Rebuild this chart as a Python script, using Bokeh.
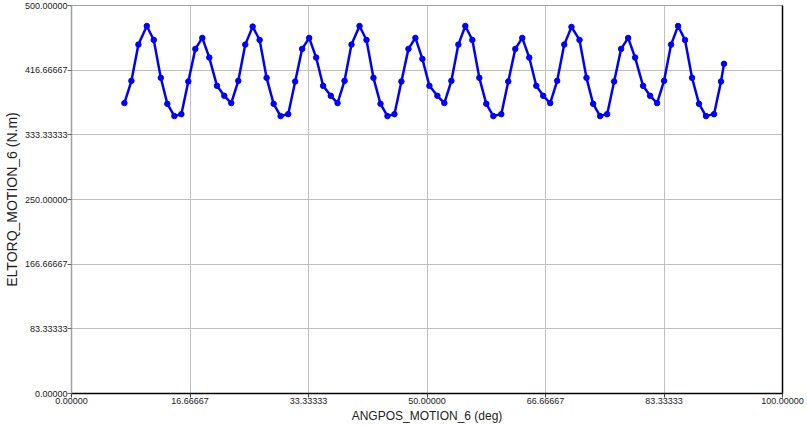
from bokeh.plotting import figure
from bokeh.models import FixedTicker, LinearAxis, Range1d
from bokeh.embed import file_html
from bokeh.resources import INLINE

# ---- data ----
angpos_deg = [
    7.44, 8.43, 9.41, 10.59, 11.57, 12.56, 13.48, 14.47, 15.45, 16.43,
    17.42, 18.40, 19.38, 20.46, 21.49, 22.47, 23.46, 24.44, 25.48, 26.46,
    27.44, 28.43, 29.41, 30.48, 31.46, 32.44, 33.43, 34.41, 35.39, 36.47,
    37.42, 38.40, 39.38, 40.51, 41.49, 42.47, 43.46, 44.44, 45.42, 46.40,
    47.39, 48.37, 49.35, 50.34, 51.46, 52.44, 53.43, 54.41, 55.39, 56.38,
    57.36, 58.34, 59.33, 60.45, 61.43, 62.42, 63.40, 64.38, 65.37, 66.35,
    67.33, 68.31, 69.30, 70.32, 71.45, 72.43, 73.37, 74.35, 75.34, 76.32,
    77.30, 78.29, 79.27, 80.39, 81.38, 82.36, 83.34, 84.33, 85.31, 86.29,
    87.28, 88.26, 89.24, 90.37, 91.35, 91.77,
]
eltorq_nm = [
    374.2, 402.9, 449.6, 473.6, 455.6, 406.8, 373.3, 357.5, 360.0, 402.1,
    444.1, 458.2, 432.9, 396.5, 383.6, 374.2, 402.9, 449.6, 472.8, 455.6,
    406.8, 373.3, 357.5, 360.0, 402.1, 444.1, 458.2, 432.9, 396.5, 383.6,
    374.2, 402.9, 449.6, 473.6, 455.6, 406.8, 373.3, 357.5, 360.0, 402.1,
    444.1, 458.2, 431.2, 396.5, 383.6, 374.2, 402.9, 449.6, 473.6, 455.6,
    406.8, 373.3, 357.5, 360.0, 402.1, 444.1, 458.2, 432.9, 396.5, 383.6,
    374.2, 402.9, 449.6, 472.4, 455.6, 406.8, 373.3, 357.5, 360.0, 402.1,
    444.1, 458.2, 432.9, 396.5, 383.6, 374.2, 402.9, 449.6, 473.6, 455.6,
    406.8, 373.3, 357.5, 360.0, 402.1, 424.8,
]
x_ticks = [0.0, 16.66667, 33.33333, 50.0, 66.66667, 83.33333, 100.0]
x_tick_labels = ["0.00000", "16.66667", "33.33333", "50.00000", "66.66667", "83.33333", "100.00000"]
y_ticks = [0.0, 83.33333, 166.66667, 250.0, 333.33333, 416.66667, 500.0]
y_tick_labels = ["0.00000", "83.33333", "166.66667", "250.00000", "333.33333", "416.66667", "500.00000"]
x_label = "ANGPOS_MOTION_6 (deg)"
y_label = "ELTORQ_MOTION_6 (N.m)"

FONT = "Liberation Sans"

p = figure(
    width=807, height=425,
    output_backend="svg", toolbar_location=None,
    x_range=Range1d(0, 100), y_range=Range1d(0, 500),
    min_border_left=70, min_border_right=25, min_border_top=5, min_border_bottom=32,
    background_fill_color="white", border_fill_color="white",
)
p.outline_line_color = "#a0a0a0"
p.outline_line_width = 1

# axes
for ax, ticks, labels in ((p.xaxis[0], x_ticks, x_tick_labels), (p.yaxis[0], y_ticks, y_tick_labels)):
    ax.ticker = FixedTicker(ticks=ticks)
    ax.major_label_overrides = {t: l for t, l in zip(ticks, labels)}
    ax.minor_tick_line_color = None
    ax.major_tick_in = 0
    ax.major_tick_out = 4
    ax.major_label_standoff = 0
    ax.axis_label_standoff = 2
    ax.major_label_text_font = FONT
    ax.major_label_text_font_size = "9px"
    ax.major_label_text_color = "#222222"
    ax.axis_label_text_font = FONT
    ax.axis_label_text_font_style = "normal"
    ax.axis_label_text_color = "#222222"

p.xaxis.axis_label = x_label
p.xaxis.axis_label_text_font_size = "12px"
p.xaxis.axis_line_color = "black"
p.xaxis.axis_line_width = 1.5
p.xaxis.major_tick_line_color = "#444444"

p.yaxis.axis_label = y_label
p.yaxis.axis_label_text_font_size = "14px"
p.yaxis.axis_line_color = "#a0a0a0"
p.yaxis.axis_line_width = 1.5
p.yaxis.major_tick_line_color = "#666666"

# black right border via an empty axis
right_ax = LinearAxis(
    ticker=FixedTicker(ticks=[]), major_label_text_font_size="0px",
    major_tick_line_color=None, minor_tick_line_color=None,
    axis_line_color="black", axis_line_width=1.5,
)
p.add_layout(right_ax, "right")

# grid
p.xgrid.ticker = FixedTicker(ticks=x_ticks)
p.ygrid.ticker = FixedTicker(ticks=y_ticks)
p.grid.grid_line_color = "#c0c0c0"
p.grid.grid_line_width = 1

# data
p.line(angpos_deg, eltorq_nm, line_color="#0000ff", line_width=2.5)
p.scatter(angpos_deg, eltorq_nm, size=5.5, fill_color="#0000ff", line_color="#0000ff")

open("out.html", "w").write(file_html(p, INLINE))
